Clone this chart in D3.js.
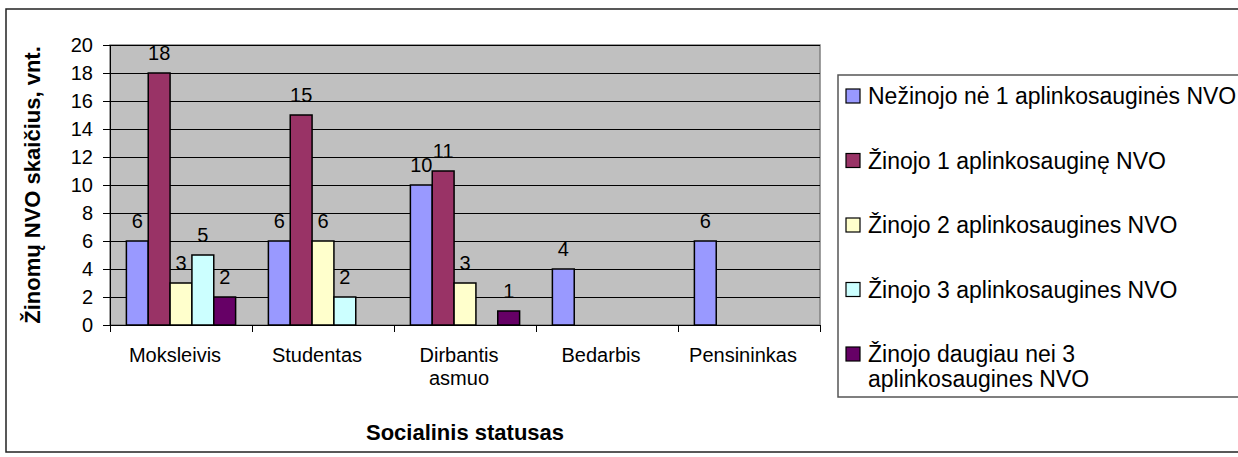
<!DOCTYPE html>
<html>
<head>
<meta charset="utf-8">
<script src="https://d3js.org/d3.v7.min.js"></script>
<style>
body { margin: 0; background: #fff; }
svg { display: block; font-family: Arial, "Liberation Sans", sans-serif; }
.axis path, .axis line { stroke: #000; shape-rendering: crispEdges; }
.grid line { stroke: #000; shape-rendering: crispEdges; }
.grid path { display: none; }
.axis text { font-size: 20px; fill: #000; }
.label { font-size: 20px; fill: #000; text-anchor: middle; }
.title { font-size: 22px; font-weight: bold; fill: #000; }
.legend text { font-size: 23px; fill: #000; }
</style>
</head>
<body>
<script>

// categories on the x axis
var categories = ["Moksleivis", "Studentas", "Dirbantis asmuo", "Bedarbis", "Pensininkas"];

// series (legend order)
var seriesNames = [
  "Nežinojo nė 1 aplinkosauginės NVO",
  "Žinojo 1 aplinkosauginę NVO",
  "Žinojo 2 aplinkosaugines NVO",
  "Žinojo 3 aplinkosaugines NVO",
  "Žinojo daugiau nei 3 aplinkosaugines NVO"
];
var colors = ["#9999FF", "#993366", "#FFFFCC", "#CCFFFF", "#660066"];

// values per series, one per category
var s0 = [6, 6, 10, 4, 6];
var s1 = [18, 15, 11, 0, 0];
var s2 = [3, 6, 3, 0, 0];
var s3 = [5, 2, 0, 0, 0];
var s4 = [2, 0, 1, 0, 0];
var seriesValues = [s0, s1, s2, s3, s4];

var yTicks = [0, 2, 4, 6, 8, 10, 12, 14, 16, 18, 20];

var W = 1238, H = 457;
var plot = {left: 110, top: 45, right: 820, bottom: 325};

var svg = d3.select("body").append("svg")
    .attr("width", W)
    .attr("height", H);

// outer chart border
svg.append("rect")
    .attr("x", 6).attr("y", 9)
    .attr("width", W + 10).attr("height", 443)
    .attr("fill", "#fff")
    .attr("stroke", "#222")
    .attr("stroke-width", 1.5);

var x0 = d3.scaleBand()
    .domain(categories)
    .range([plot.left, plot.right])
    .padding(0);

var bw = x0.bandwidth() / 6.5;
var x1 = d3.scaleBand()
    .domain(d3.range(seriesNames.length))
    .range([bw * 0.75, x0.bandwidth() - bw * 0.75])
    .padding(0);

var y = d3.scaleLinear()
    .domain([0, 20])
    .range([plot.bottom, plot.top]);

// plot background
svg.append("rect")
    .attr("x", plot.left).attr("y", plot.top)
    .attr("width", plot.right - plot.left)
    .attr("height", plot.bottom - plot.top)
    .attr("fill", "#C0C0C0")
    .attr("stroke", "#808080")
    .attr("stroke-width", 1.5);

// gridlines
svg.append("g")
    .attr("class", "grid")
    .attr("transform", "translate(" + plot.left + ",0)")
    .call(d3.axisLeft(y).tickValues(yTicks.slice(1)).tickSize(-(plot.right - plot.left)).tickFormat(""));

// bars
var rows = [];
seriesValues.forEach(function(vals, si) {
  vals.forEach(function(v, ci) {
    if (v > 0) rows.push({cat: categories[ci], s: si, v: v});
  });
});

svg.append("g").selectAll("rect")
    .data(rows)
  .enter().append("rect")
    .attr("x", function(d) { return x0(d.cat) + x1(d.s); })
    .attr("y", function(d) { return y(d.v); })
    .attr("width", x1.bandwidth())
    .attr("height", function(d) { return y(0) - y(d.v); })
    .attr("fill", function(d) { return colors[d.s]; })
    .attr("stroke", "#000")
    .attr("stroke-width", 1.5);

// data labels
svg.append("g").selectAll("text")
    .data(rows)
  .enter().append("text")
    .attr("class", "label")
    .attr("x", function(d) { return x0(d.cat) + x1(d.s) + x1.bandwidth() / 2; })
    .attr("y", function(d) { return y(d.v) - 13; })
    .text(function(d) { return d.v; });

// y axis
svg.append("g")
    .attr("class", "axis")
    .attr("transform", "translate(" + plot.left + ",0)")
    .call(d3.axisLeft(y).tickValues(yTicks).tickSize(7).tickPadding(10).tickSizeOuter(0));

// x axis
var xAxis = svg.append("g")
    .attr("class", "axis")
    .attr("transform", "translate(0," + plot.bottom + ")")
    .call(d3.axisBottom(x0).tickSize(0).tickSizeOuter(0).tickFormat(""));

xAxis.selectAll("line.sep")
    .data(categories.map(function(c) { return x0(c); }).concat([plot.right]))
  .enter().append("line")
    .attr("class", "sep")
    .attr("x1", function(d) { return d; })
    .attr("x2", function(d) { return d; })
    .attr("y1", 0).attr("y2", 7);

var xl = xAxis.selectAll("text.cat")
    .data(categories)
  .enter().append("text")
    .attr("class", "cat")
    .attr("text-anchor", "middle")
    .attr("x", function(d) { return x0(d) + x0.bandwidth() / 2 - 6; })
    .attr("y", 37);

xl.each(function(d) {
  var words = d.split(" ");
  var t = d3.select(this);
  words.forEach(function(w, i) {
    t.append("tspan")
      .attr("x", x0(d) + x0.bandwidth() / 2 - 6)
      .attr("dy", i === 0 ? 0 : 23)
      .text(w);
  });
});

// axis titles
svg.append("text")
    .attr("class", "title")
    .attr("text-anchor", "middle")
    .attr("x", (plot.left + plot.right) / 2)
    .attr("y", 440)
    .text("Socialinis statusas");

svg.append("text")
    .attr("class", "title")
    .attr("text-anchor", "middle")
    .attr("transform", "translate(40," + (plot.top + plot.bottom) / 2 + ") rotate(-90)")
    .text("Žinomų NVO skaičius, vnt.");

// legend
var legend = svg.append("g").attr("class", "legend");

legend.append("rect")
    .attr("x", 838).attr("y", 75)
    .attr("width", 420).attr("height", 322)
    .attr("fill", "#fff")
    .attr("stroke", "#555")
    .attr("stroke-width", 1.5);

var item = legend.selectAll("g.item")
    .data(seriesNames)
  .enter().append("g")
    .attr("class", "item")
    .attr("transform", function(d, i) { return "translate(846," + (96 + i * 64.5) + ")"; });

item.append("rect")
    .attr("x", 0).attr("y", -7)
    .attr("width", 14).attr("height", 14)
    .attr("fill", function(d, i) { return colors[i]; })
    .attr("stroke", "#000")
    .attr("stroke-width", 1.2);

item.append("text")
    .attr("x", 22)
    .attr("y", 8)
    .each(function(d) {
      var t = d3.select(this);
      if (d.length > 36) {
        var parts = ["Žinojo daugiau nei 3", "aplinkosaugines NVO"];
        parts.forEach(function(p, i) {
          t.append("tspan").attr("x", 22).attr("dy", i === 0 ? 0 : 25).text(p);
        });
      } else {
        t.text(d);
      }
    });

</script>
</body>
</html>
